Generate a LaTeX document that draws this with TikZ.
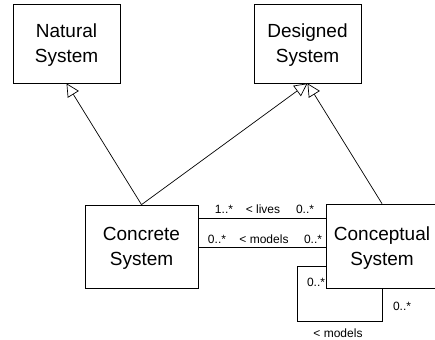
\documentclass[tikz,border=0pt]{standalone}
\usepackage{fontspec}
\setmainfont{Liberation Sans}
\usetikzlibrary{arrows.meta}
\begin{document}
\begin{tikzpicture}[x=1pt,y=-1pt,
  every path/.style={line width=0.7pt},
  classbox/.style={draw, fill=white, inner sep=0pt, align=center, text depth=0pt,
    font=\fontsize{19}{25}\selectfont},
  gen/.style={-{Triangle[fill=white,length=13pt,width=13pt]}},
  mult/.style={inner sep=0pt, anchor=base, font=\fontsize{12}{14}\selectfont}]
\useasboundingbox (0,0) rectangle (435,339);

% association labels
\node[mult] (l1) at (224,213) {1..*};
\node[mult] (l2) at (263,213) {< lives};
\node[mult] (l3) at (305,213) {0..*};
\node[mult] (m1) at (217,243) {0..*};
\node[mult] (m2) at (264,243) {< models};
\node[mult] (m3) at (313,243) {0..*};
\node[mult] (s1) at (316,286) {0..*};
\node[mult] (s2) at (402,310) {0..*};
\node[mult] (s3) at (338,337) {< models};

% classes
\node[classbox, minimum width=107pt, minimum height=79pt] (natural) at (66.5,43.5) {Natural\\System};
\node[classbox, minimum width=107pt, minimum height=79pt] (designed) at (307.5,43.5) {Designed\\System};
\node[classbox, minimum width=113pt, minimum height=83pt] (concrete) at (141.5,246.5) {Concrete\\System};
\node[classbox, minimum width=112pt, minimum height=84pt] (conceptual) at (382,246) {Conceptual\\System};

% generalizations
\draw[gen] (concrete.north) -- (natural.south);
\draw[gen] (concrete.north) -- (designed.south);
\draw[gen] (conceptual.north) -- (designed.south);

% associations
\coordinate (livesY) at (0,218);
\coordinate (modelsY) at (0,247);
\draw (concrete.east |- livesY) -- (conceptual.west |- livesY);
\draw (concrete.east |- modelsY) -- (conceptual.west |- modelsY);

% reflexive association
\coordinate (loopA) at (297,266);
\coordinate (loopB) at (297,321);
\draw (conceptual.west |- loopA) -- (loopA) -- (loopB) -| (conceptual.south);
\end{tikzpicture}
\end{document}
